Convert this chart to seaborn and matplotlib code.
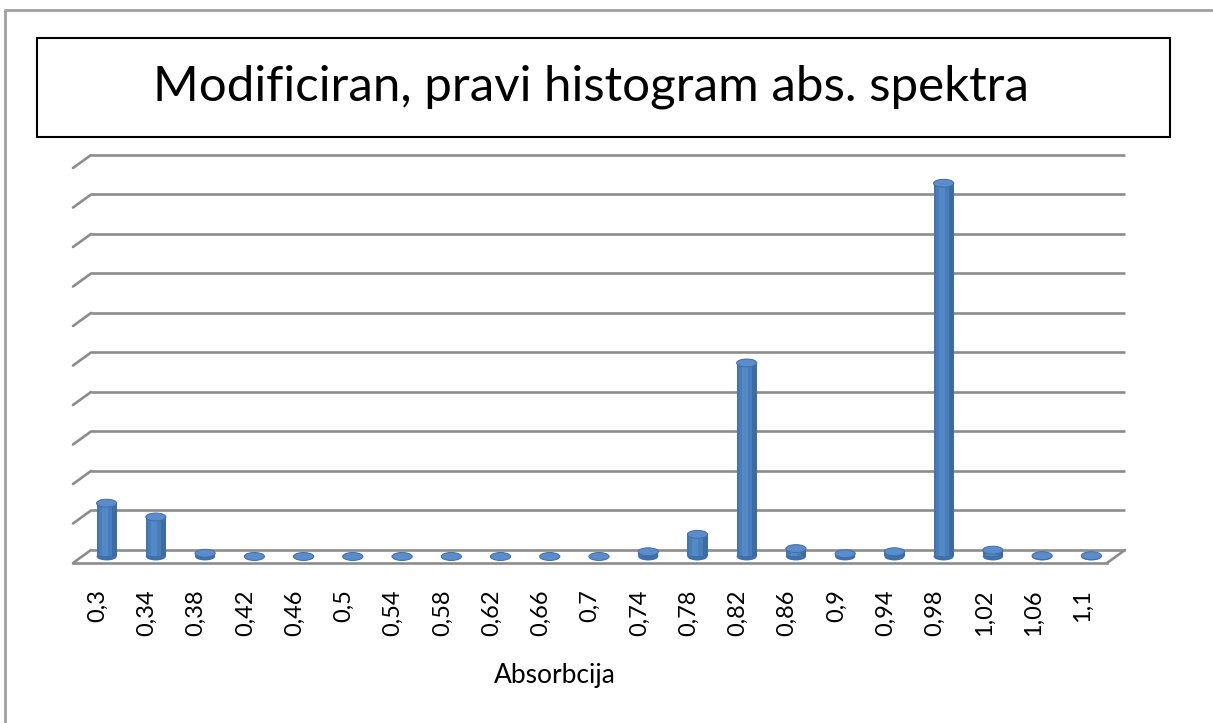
import matplotlib
matplotlib.use("Agg")
import matplotlib.pyplot as plt
import seaborn as sns
import numpy as np
import pandas as pd
from matplotlib.patches import Ellipse, Rectangle
from matplotlib.lines import Line2D

# kategorije (absorbcija) i visine stupaca (procijenjeno sa slike, bez oznaka na y osi)
absorbcija = ["0,3", "0,34", "0,38", "0,42", "0,46", "0,5", "0,54", "0,58", "0,62", "0,66",
              "0,7", "0,74", "0,78", "0,82", "0,86", "0,9", "0,94", "0,98", "1,02", "1,06", "1,1"]
vrijednosti = [1.35, 1.0, 0.08, 0, 0, 0, 0, 0, 0, 0,
               0, 0.12, 0.56, 4.9, 0.2, 0.07, 0.12, 9.45, 0.16, 0.02, 0.02]
broj_linija = 10

df = pd.DataFrame({"absorbcija": absorbcija, "n": vrijednosti})

sns.set_style("white")
plt.rcParams["font.family"] = ["Lato", "DejaVu Sans"]
plt.rcParams["text.color"] = "black"
plt.rcParams["xtick.color"] = "black"

W, H = 1213, 723
fig = plt.figure(figsize=(W / 100, H / 100), dpi=100)

# "3D" pomak dubine (podaci)
dx = 0.366
dy = 0.33
n = len(absorbcija)

ax = fig.add_axes([73 / W, 1 - 563 / H, (1125 - 73) / W, (563 - 155) / H])

siva = "#8C8C8C"
# stražnji zid - linije mreže
for k in range(broj_linija + 1):
    yb = dy / 2 + k
    ax.plot([-0.5 + dx / 2, n - 0.5 + dx / 2], [yb, yb], color=siva, lw=1.9,
            solid_capstyle="butt", clip_on=False, zorder=1)
    ax.plot([-0.5 + dx / 2, -0.5 - dx / 2], [yb, yb - dy], color=siva, lw=1.9,
            clip_on=False, zorder=1)
# pod
ax.plot([n - 0.5 - dx / 2, n - 0.5 + dx / 2], [-dy / 2, dy / 2], color=siva, lw=1.9,
        clip_on=False, zorder=1)

plava = "#4A7EBB"
sns.barplot(data=df, x="absorbcija", y="n", color=plava, width=0.41,
            linewidth=0, saturation=1, ax=ax, zorder=3)
ax.set_xlim(-0.5 - dx / 2, n - 0.5 + dx / 2)
ax.set_ylim(-dy / 2, broj_linija + dy / 2)

# sjena cilindra (tamniji rubovi, svjetlija sredina)
for p in ax.patches:
    x0, w, h = p.get_x(), p.get_width(), p.get_height()
    if h > 0:
        ax.add_patch(Rectangle((x0 + w * 0.25, 0), w * 0.3, h, facecolor="#5489C8",
                               lw=0, zorder=3.4))
        ax.add_patch(Rectangle((x0 + w * 0.75, 0), w * 0.25, h, facecolor="#3D6CA3",
                               lw=0, zorder=3.5))
        ax.add_patch(Rectangle((x0, 0), w * 0.1, h, facecolor="#4274AE",
                               lw=0, zorder=3.5))

# kape cilindara
for i, v in enumerate(vrijednosti):
    ax.add_patch(Ellipse((i, 0), 0.41, 0.2, facecolor="#3F70AA", edgecolor="none",
                         zorder=2))
    ax.add_patch(Ellipse((i, v), 0.41, 0.2, facecolor="#5B8DCC", edgecolor="#3F6EA6",
                         lw=0.7, zorder=4))

for s in ["top", "right", "left"]:
    ax.spines[s].set_visible(False)
ax.spines["bottom"].set_color(siva)
ax.spines["bottom"].set_linewidth(1.9)
ax.spines["bottom"].set_bounds(-0.5 - dx / 2, n - 0.5 - dx / 2)

ax.set_yticks([])
ax.set_xticks(np.arange(n) - dx / 2)
ax.set_xticklabels(absorbcija, rotation=90, fontsize=17)
ax.set_xticks(np.arange(n + 1) - 0.5 - dx / 2, minor=True)
ax.tick_params(axis="x", which="major", length=0, pad=19)
ax.tick_params(axis="x", which="minor", length=7, width=1.9, color=siva, direction="out")
ax.set_xlabel("")
ax.set_ylabel("")

fig.text(555 / W, 1 - 676 / H, "Absorbcija", ha="center", va="center", fontsize=19)

# okvir naslova
fig.patches.append(Rectangle((37 / W, 1 - 137 / H), (1170 - 37) / W, 99 / H,
                             transform=fig.transFigure, fill=False, edgecolor="black", lw=1.5))
fig.text(591 / W, 1 - 87 / H, "Modificiran, pravi histogram abs. spektra",
         ha="center", va="center", fontsize=35.5)

# vanjski okvir grafikona
fig.lines.append(Line2D([5 / W, 5 / W, 1.0], [0.0, 1 - 10 / H, 1 - 10 / H],
                        transform=fig.transFigure, color="#A0A0A0", lw=2))

fig.savefig("out.png", dpi=100)
